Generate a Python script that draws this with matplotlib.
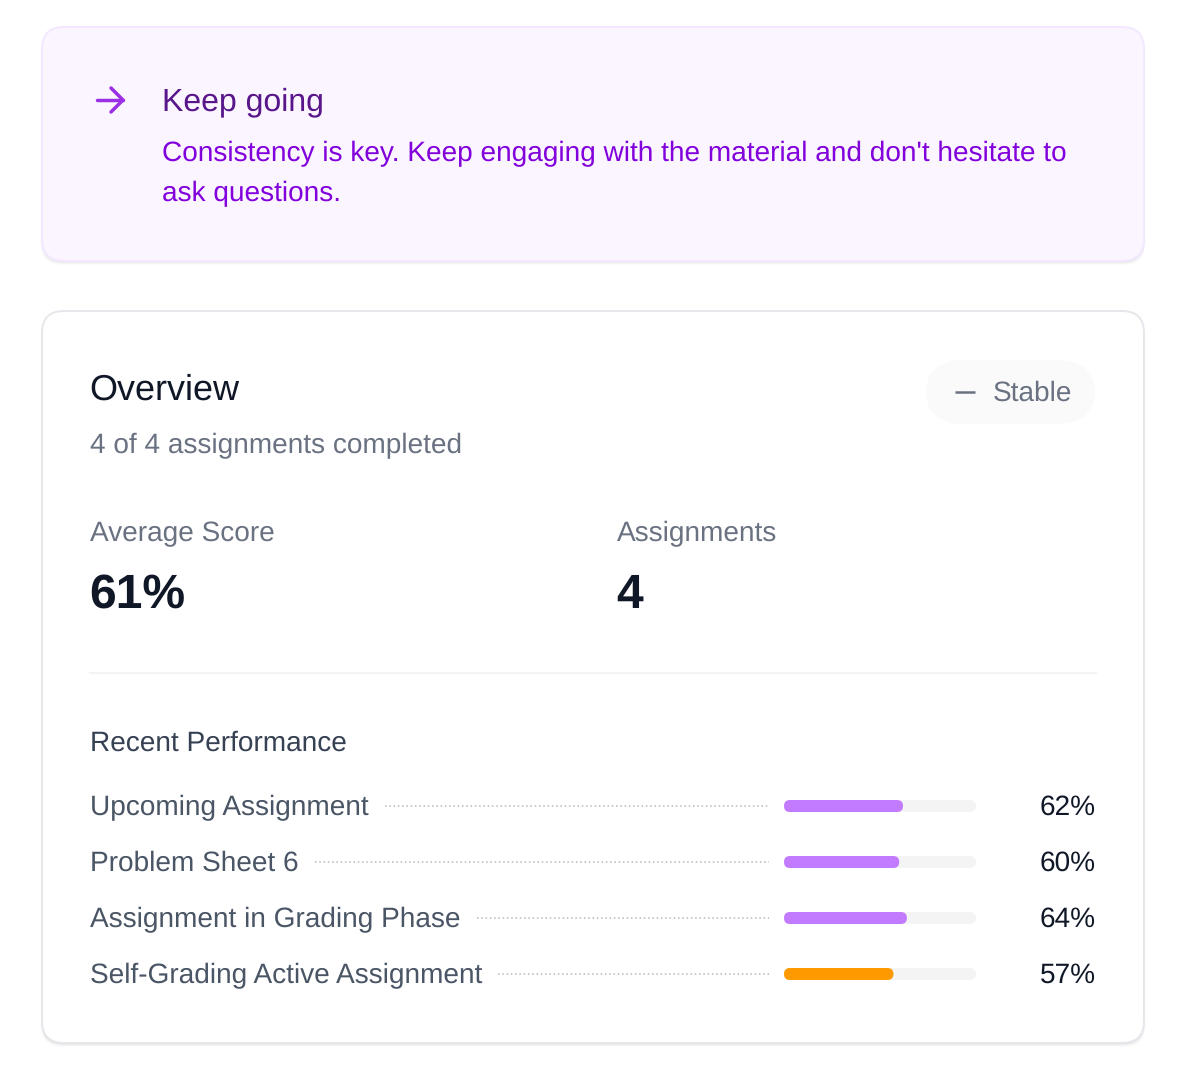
import matplotlib
matplotlib.use("Agg")
import matplotlib.pyplot as plt
from matplotlib.patches import FancyBboxPatch

plt.rcParams['font.family'] = ['Liberation Sans', 'DejaVu Sans']
plt.rcParams['text.hinting'] = 'no_hinting'

# data
assignments = ["Upcoming Assignment", "Problem Sheet 6", "Assignment in Grading Phase", "Self-Grading Active Assignment"]
scores = [62, 60, 64, 57]
bar_colors = ["#c27aff", "#c27aff", "#c27aff", "#ff9900"]
average_score = "61%"
assignment_count = "4"

W, H = 1178, 1072
PX = 0.72  # px to pt at dpi 100

fig = plt.figure(figsize=(W / 100, H / 100), dpi=100, facecolor="white")
ax = fig.add_axes([0, 0, 1, 1])
ax.set_xlim(0, W)
ax.set_ylim(H, 0)
ax.axis("off")


def rbox(x0, y0, x1, y1, r, fc, ec="none", lw=0, z=2, alpha=None):
    p = FancyBboxPatch((x0 + r, y0 + r), x1 - x0 - 2 * r, y1 - y0 - 2 * r,
                       boxstyle=f"round,pad={r},rounding_size={r}",
                       fc=fc, ec=ec, lw=lw, zorder=z, alpha=alpha)
    ax.add_patch(p)
    return p


def card(x0, y0, x1, y1, fc, ec):
    # soft shadow under the card
    for off, grow, a in [(4, 1.5, 0.015), (3, 1, 0.025), (2, 0.5, 0.04), (1, 0, 0.06)]:
        rbox(x0 - grow, y0 + off, x1 + grow, y1 + off, 22, "#111827", z=1, alpha=a)
    rbox(x0, y0, x1, y1, 22, fc, ec, 1.4, z=2)


def label(x, y, s, size, color, **kw):
    ax.text(x, y, s, fontsize=size * PX, color=color, va="baseline", zorder=5, **kw)


# top banner
card(42, 27, 1144, 261, "#faf5ff", "#f3e8ff")
ax.plot([97, 123], [100, 100], color="#9a2fe5", lw=2.5, solid_capstyle="round", zorder=5)
ax.plot([111, 123, 111], [88, 100, 112], color="#9a2fe5", lw=2.5,
        solid_capstyle="round", solid_joinstyle="round", zorder=5)
label(162, 110.3, "Keep going", 32, "#59168b")
label(162, 161, "Consistency is key. Keep engaging with the material and don't hesitate to", 28, "#8200db")
label(162, 201, "ask questions.", 28, "#8200db")

# overview card
card(42, 311, 1144, 1043, "#ffffff", "#e5e7eb")
label(89.3, 400, "Overview", 36, "#101828")
label(90, 453, "4 of 4 assignments completed", 28, "#6a7282")

rbox(925, 360, 1096, 424, 38, "#fafafa")
ax.plot([955, 975], [392, 392], color="#6a7282", lw=1.8, solid_capstyle="butt", zorder=5)
label(993, 401, "Stable", 28, "#6a7282")

label(90, 541, "Average Score", 28, "#6a7282")
label(89.3, 607.5, average_score, 48, "#101828", fontweight="bold")
label(617, 541, "Assignments", 28, "#6a7282")
label(616.3, 607.5, assignment_count, 48, "#101828", fontweight="bold")

ax.plot([90, 1096], [673, 673], color="#f3f4f6", lw=1.5, zorder=3)
label(90, 751, "Recent Performance", 28, "#364153")

# rows
track_x0, track_x1 = 784, 976
track_w = track_x1 - track_x0
row_y = [806 + 56 * i for i in range(len(assignments))]
renderer = fig.canvas.get_renderer()
for name, score, col, y in zip(assignments, scores, bar_colors, row_y):
    t = ax.text(90, y + 9, name, fontsize=28 * PX, color="#4a5565", va="baseline", zorder=5)
    text_end = t.get_window_extent(renderer).x1
    ax.plot([text_end + 16, 769], [y - 0.5, y - 0.5], color="#b4b8c0", lw=1.1, ls=(0, (1, 1.8)), zorder=3)
    rbox(track_x0, y - 6, track_x1, y + 6, 6, "#f4f4f4", z=3)
    rbox(track_x0, y - 6, track_x0 + score / 100 * track_w, y + 6, 6, col, z=4)
    ax.text(1096, y + 9, f"{score}%", fontsize=28 * PX, color="#101828", ha="right", va="baseline", zorder=5)

fig.savefig("out.png", dpi=100, facecolor="white")
